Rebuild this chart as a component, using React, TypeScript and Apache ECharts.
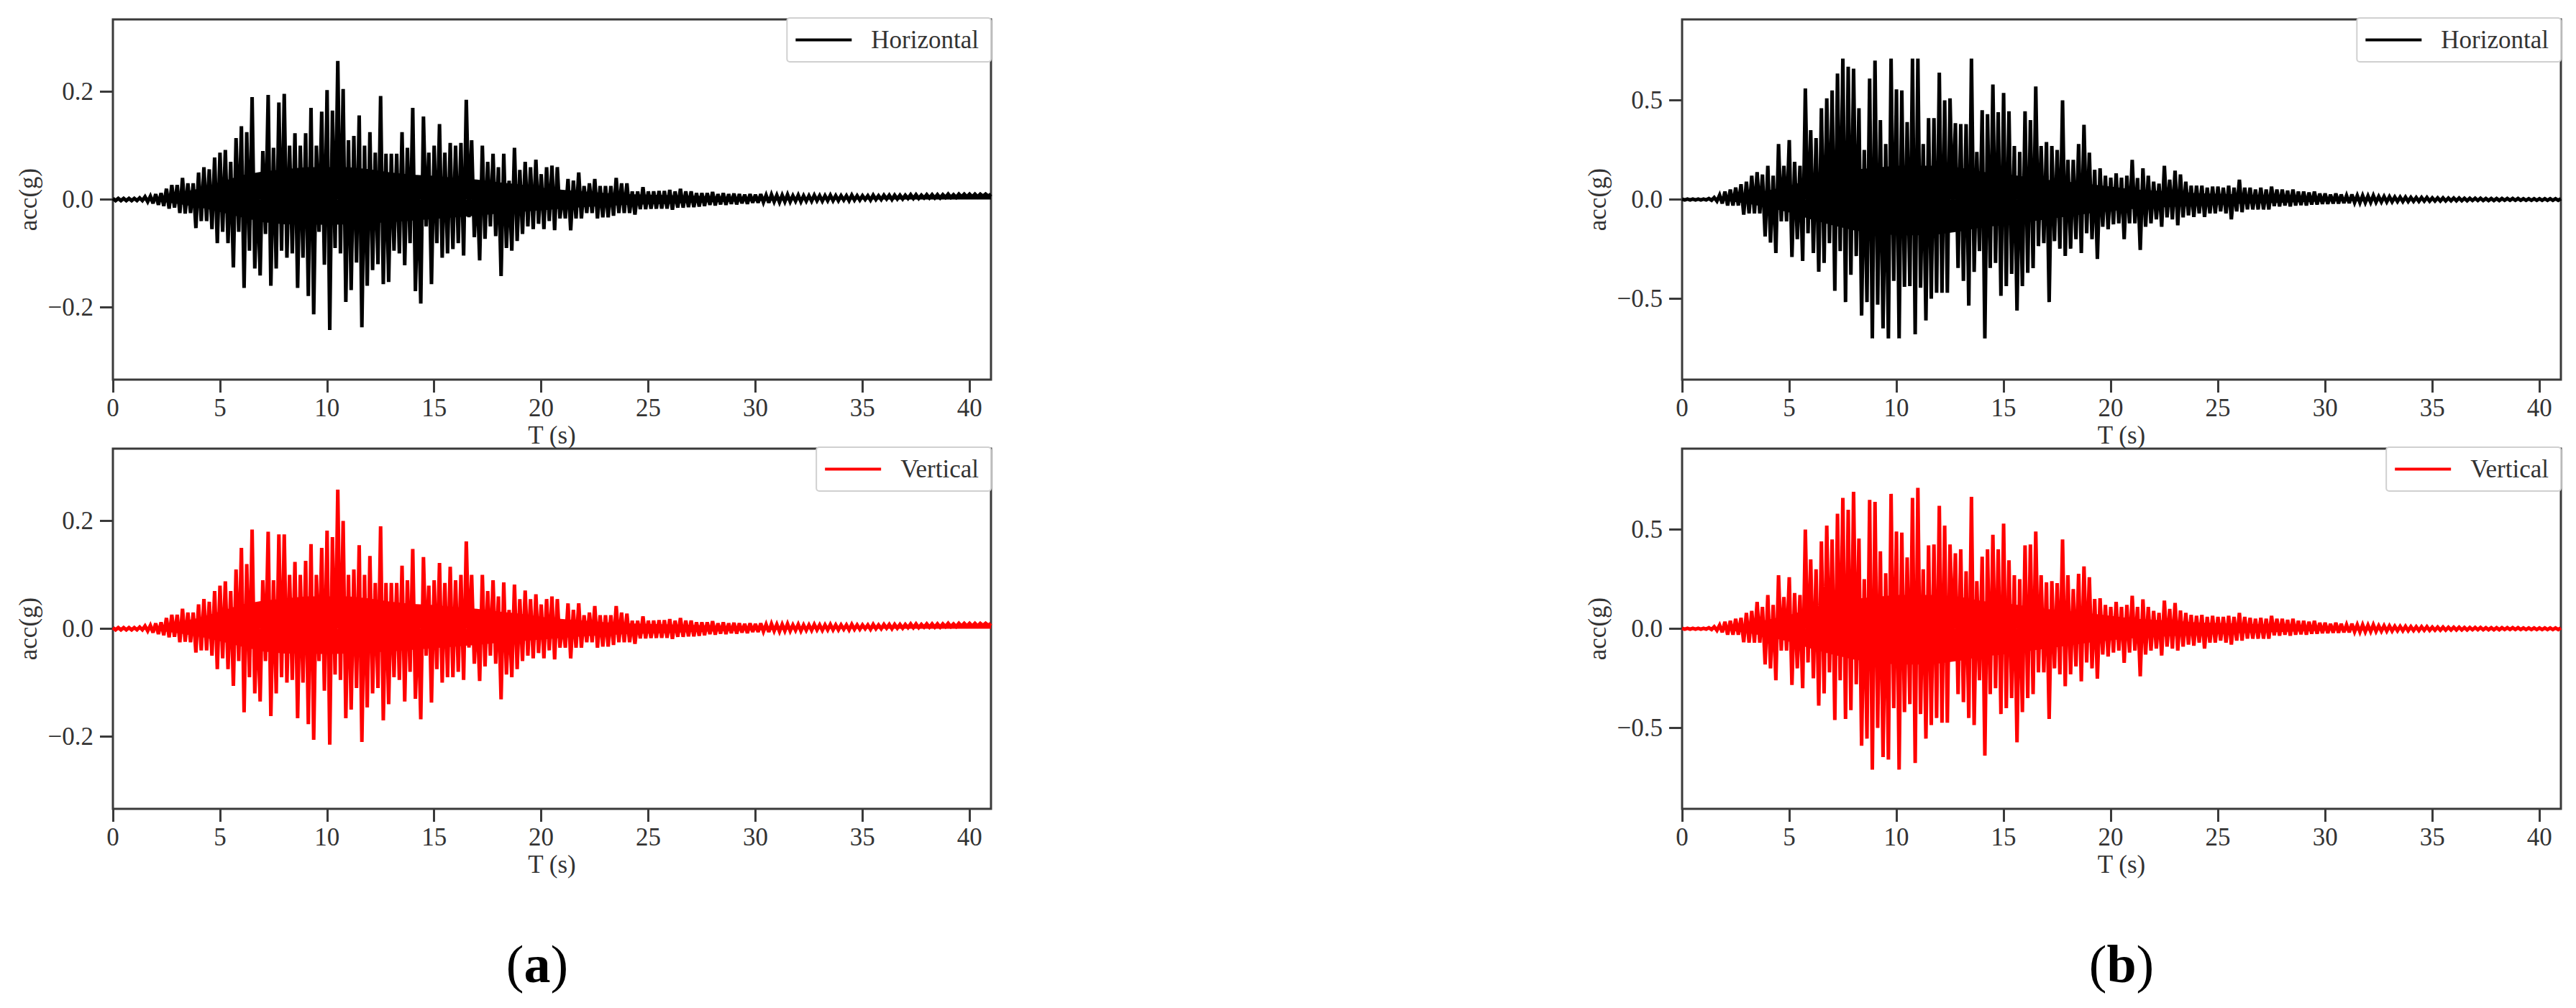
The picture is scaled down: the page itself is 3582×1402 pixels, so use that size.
import React, { useEffect, useRef } from "react";
import * as echarts from "echarts";

// ---- axis / tick data ----
const X_TICKS = [0, 5, 10, 15, 20, 25, 30, 35, 40];
const Y_TICKS_A = [-0.2, 0, 0.2];
const Y_TICKS_B = [-0.5, 0, 0.5];
const T_MAX = 41;
const Y_LIM_A = 0.334;
const Y_LIM_B = 0.908;
const BIN = 0.25; // s, width of each read-off window (max then min per window)
const BODY_STEP = 1; // s, spacing of the dense-body outline readings

// ---- (a) Horizontal: per-window maxima / minima, t = 0 .. 27.25 s ----
const hA_up = [
  0.002, 0.002, 0.002, 0.002, 0.002, 0.003, 0.005, 0.006, 0.01, 0.012,
  0.02, 0.027, 0.027, 0.04, 0.03, 0.03, 0.05, 0.06, 0.056, 0.078,
  0.087, 0.092, 0.07, 0.114, 0.136, 0.125, 0.19, 0.03, 0.09, 0.194,
  0.096, 0.18, 0.196, 0.1, 0.123, 0.1, 0.123, 0.17, 0.1, 0.163,
  0.203, 0.165, 0.257, 0.205, 0.11, 0.118, 0.156, 0.1, 0.125, 0.087,
  0.192, 0.085, 0.085, 0.085, 0.125, 0.096, 0.17, 0.03, 0.154, 0.087,
  0.1, 0.14, 0.087, 0.105, 0.1, 0.105, 0.185, 0.11, 0.035, 0.1,
  0.07, 0.085, 0.06, 0.085, 0.035, 0.096, 0.055, 0.07, 0.06, 0.074,
  0.047, 0.06, 0.063, 0.06, 0.016, 0.038, 0.035, 0.05, 0.025, 0.03,
  0.038, 0.025, 0.025, 0.025, 0.04, 0.03, 0.03, 0.015, 0.015, 0.023,
  0.015, 0.015, 0.016, 0.016, 0.018, 0.015, 0.02, 0.015, 0.015, 0.012,
];
const hA_lo = [
  -0.002, -0.002, -0.002, -0.002, -0.002, -0.002, -0.004, -0.007, -0.01, -0.012,
  -0.017, -0.015, -0.025, -0.026, -0.025, -0.053, -0.04, -0.04, -0.055, -0.081,
  -0.06, -0.081, -0.126, -0.06, -0.164, -0.095, -0.128, -0.141, -0.064, -0.16,
  -0.128, -0.095, -0.108, -0.1, -0.164, -0.108, -0.179, -0.213, -0.06, -0.121,
  -0.242, -0.09, -0.1, -0.19, -0.168, -0.117, -0.237, -0.16, -0.131, -0.12,
  -0.157, -0.153, -0.095, -0.1, -0.122, -0.081, -0.17, -0.193, -0.05, -0.157,
  -0.081, -0.108, -0.1, -0.092, -0.081, -0.104, -0.033, -0.07, -0.113, -0.073,
  -0.05, -0.068, -0.142, -0.09, -0.095, -0.077, -0.064, -0.05, -0.055, -0.045,
  -0.055, -0.04, -0.057, -0.035, -0.035, -0.057, -0.035, -0.035, -0.025, -0.025,
  -0.035, -0.033, -0.033, -0.03, -0.025, -0.025, -0.025, -0.028, -0.018, -0.018,
  -0.017, -0.017, -0.017, -0.017, -0.019, -0.015, -0.015, -0.014, -0.014, -0.013,
];

// ---- (a) Vertical ----
const vA_up = [
  0.002, 0.002, 0.002, 0.002, 0.002, 0.003, 0.005, 0.006, 0.01, 0.012,
  0.02, 0.026, 0.026, 0.037, 0.03, 0.03, 0.045, 0.055, 0.05, 0.07,
  0.08, 0.088, 0.07, 0.11, 0.15, 0.12, 0.184, 0.03, 0.09, 0.18,
  0.09, 0.175, 0.175, 0.1, 0.124, 0.1, 0.126, 0.157, 0.1, 0.15,
  0.182, 0.17, 0.258, 0.2, 0.1, 0.11, 0.155, 0.1, 0.135, 0.085,
  0.19, 0.085, 0.085, 0.085, 0.117, 0.09, 0.148, 0.03, 0.133, 0.08,
  0.09, 0.122, 0.085, 0.115, 0.09, 0.1, 0.162, 0.1, 0.035, 0.1,
  0.07, 0.09, 0.06, 0.086, 0.035, 0.082, 0.055, 0.071, 0.055, 0.064,
  0.045, 0.055, 0.06, 0.055, 0.016, 0.047, 0.035, 0.047, 0.025, 0.03,
  0.042, 0.025, 0.025, 0.025, 0.042, 0.03, 0.028, 0.015, 0.015, 0.023,
  0.015, 0.015, 0.016, 0.016, 0.018, 0.015, 0.02, 0.015, 0.015, 0.012,
];
const vA_lo = [
  -0.002, -0.002, -0.002, -0.002, -0.002, -0.002, -0.004, -0.007, -0.01, -0.012,
  -0.016, -0.015, -0.025, -0.024, -0.025, -0.044, -0.04, -0.04, -0.05, -0.075,
  -0.055, -0.075, -0.106, -0.06, -0.155, -0.09, -0.12, -0.135, -0.06, -0.162,
  -0.12, -0.09, -0.1, -0.095, -0.166, -0.1, -0.177, -0.206, -0.06, -0.115,
  -0.215, -0.085, -0.095, -0.166, -0.15, -0.11, -0.21, -0.146, -0.12, -0.11,
  -0.17, -0.14, -0.09, -0.095, -0.135, -0.08, -0.13, -0.168, -0.05, -0.137,
  -0.075, -0.1, -0.09, -0.09, -0.08, -0.095, -0.035, -0.065, -0.097, -0.07,
  -0.05, -0.065, -0.131, -0.085, -0.09, -0.075, -0.06, -0.05, -0.055, -0.045,
  -0.055, -0.04, -0.057, -0.035, -0.035, -0.055, -0.035, -0.035, -0.025, -0.025,
  -0.035, -0.033, -0.033, -0.03, -0.025, -0.025, -0.025, -0.028, -0.018, -0.018,
  -0.017, -0.017, -0.017, -0.017, -0.019, -0.015, -0.015, -0.014, -0.014, -0.013,
];

// ---- (a) coda, t = 27.5 .. 41 s (both components) ----
const aTail_up = [
  0.012, 0.012, 0.014, 0.01, 0.012, 0.01, 0.011, 0.01, 0.009, 0.01,
  0.009, 0.01, 0.008, 0.009, 0.008, 0.008, 0.009, 0.007, 0.008, 0.007,
  0.007, 0.008, 0.007, 0.007, 0.008, 0.007, 0.007, 0.007, 0.008, 0.007,
  0.007, 0.007, 0.008, 0.007, 0.008, 0.008, 0.008, 0.008, 0.008, 0.009,
  0.009, 0.008, 0.009, 0.009, 0.009, 0.009, 0.01, 0.009, 0.01, 0.01,
  0.01, 0.01, 0.01, 0.01, 0.01,
];
const aTail_lo = [
  -0.012, -0.01, -0.011, -0.009, -0.01, -0.008, -0.009, -0.007, -0.008, -0.006,
  -0.006, -0.005, -0.006, -0.004, -0.005, -0.004, -0.004, -0.003, -0.004, -0.003,
  -0.003, -0.002, -0.003, -0.002, -0.002, -0.002, -0.001, -0.002, -0.001, -0.001,
  0, -0.001, 0, 0, 0.001, 0, 0.001, 0.001, 0.002, 0.002,
  0.002, 0.003, 0.003, 0.003, 0.003, 0.004, 0.004, 0.004, 0.005, 0.005,
  0.005, 0.005, 0.006, 0.006, 0.006,
];

// ---- (a) fully inked core of the record, t = 0 .. 41 s by 1 s ----
const aBody_up = [
  0, 0, 0.004, 0.012, 0.02, 0.032, 0.045, 0.052, 0.056, 0.06,
  0.06, 0.06, 0.056, 0.05, 0.046, 0.044, 0.04, 0.037, 0.032, 0.028,
  0.022, 0.018, 0.015, 0.012, 0.01, 0.009, 0.008, 0.007, 0.006, 0.005,
  0.005, 0.004, 0.004, 0.004, 0.004, 0.004, 0.004, 0.005, 0.005, 0.006,
  0.006, 0.007,
];
const aBody_lo = [
  0, 0, -0.003, -0.008, -0.014, -0.023, -0.033, -0.042, -0.046, -0.046,
  -0.047, -0.046, -0.044, -0.042, -0.039, -0.036, -0.033, -0.03, -0.026, -0.023,
  -0.02, -0.017, -0.014, -0.012, -0.01, -0.009, -0.008, -0.006, -0.005, -0.004,
  -0.003, -0.002, -0.001, 0, 0, 0, 0, 0, 0, 0,
  0, 0,
];

// ---- (b) Horizontal ----
const hB_up = [
  0.002, 0.002, 0.002, 0.002, 0.002, 0.005, 0.01, 0.022, 0.04, 0.05,
  0.06, 0.077, 0.09, 0.12, 0.138, 0.126, 0.17, 0.12, 0.28, 0.17,
  0.3, 0.19, 0.17, 0.56, 0.35, 0.31, 0.46, 0.51, 0.55, 0.635,
  0.71, 0.67, 0.66, 0.46, 0.25, 0.61, 0.7, 0.4, 0.28, 0.71,
  0.555, 0.55, 0.39, 0.71, 0.71, 0.28, 0.41, 0.41, 0.64, 0.5,
  0.51, 0.385, 0.38, 0.38, 0.71, 0.24, 0.45, 0.43, 0.58, 0.44,
  0.537, 0.445, 0.27, 0.24, 0.445, 0.4, 0.57, 0.27, 0.29, 0.27,
  0.25, 0.5, 0.2, 0.2, 0.28, 0.377, 0.236, 0.15, 0.157, 0.12,
  0.11, 0.132, 0.11, 0.12, 0.2, 0.108, 0.157, 0.12, 0.09, 0.08,
  0.17, 0.1, 0.145, 0.126, 0.09, 0.07, 0.07, 0.07, 0.06, 0.065,
  0.065, 0.06, 0.07, 0.06, 0.1, 0.06, 0.06, 0.05, 0.06, 0.05,
];
const hB_lo = [
  -0.002, -0.002, -0.002, -0.002, -0.002, -0.004, -0.008, -0.02, -0.03, -0.03,
  -0.03, -0.076, -0.07, -0.07, -0.07, -0.186, -0.217, -0.27, -0.11, -0.11,
  -0.29, -0.2, -0.31, -0.17, -0.27, -0.364, -0.32, -0.22, -0.46, -0.26,
  -0.517, -0.38, -0.285, -0.585, -0.517, -0.7, -0.53, -0.65, -0.7, -0.41,
  -0.7, -0.44, -0.437, -0.68, -0.445, -0.61, -0.5, -0.47, -0.47, -0.47,
  -0.065, -0.345, -0.41, -0.535, -0.365, -0.26, -0.7, -0.345, -0.32, -0.486,
  -0.437, -0.375, -0.56, -0.437, -0.37, -0.346, -0.235, -0.22, -0.517, -0.21,
  -0.248, -0.284, -0.248, -0.2, -0.27, -0.17, -0.2, -0.3, -0.137, -0.15,
  -0.125, -0.12, -0.2, -0.12, -0.12, -0.254, -0.137, -0.12, -0.1, -0.137,
  -0.09, -0.1, -0.13, -0.09, -0.08, -0.088, -0.07, -0.088, -0.07, -0.07,
  -0.06, -0.07, -0.1, -0.06, -0.064, -0.05, -0.05, -0.05, -0.05, -0.05,
];

// ---- (b) Vertical ----
const vB_up = [
  0.002, 0.002, 0.002, 0.002, 0.002, 0.005, 0.01, 0.018, 0.035, 0.04,
  0.05, 0.055, 0.08, 0.09, 0.135, 0.11, 0.17, 0.12, 0.27, 0.16,
  0.26, 0.18, 0.17, 0.5, 0.35, 0.3, 0.44, 0.52, 0.45, 0.58,
  0.66, 0.6, 0.69, 0.455, 0.25, 0.65, 0.64, 0.39, 0.28, 0.68,
  0.49, 0.485, 0.36, 0.66, 0.71, 0.3, 0.42, 0.425, 0.62, 0.52,
  0.425, 0.38, 0.4, 0.29, 0.665, 0.24, 0.363, 0.4, 0.474, 0.4,
  0.53, 0.345, 0.27, 0.25, 0.42, 0.425, 0.49, 0.27, 0.234, 0.24,
  0.23, 0.45, 0.27, 0.2, 0.277, 0.314, 0.26, 0.15, 0.154, 0.12,
  0.11, 0.135, 0.11, 0.12, 0.166, 0.11, 0.148, 0.11, 0.09, 0.08,
  0.142, 0.1, 0.13, 0.092, 0.08, 0.07, 0.065, 0.07, 0.06, 0.065,
  0.06, 0.06, 0.065, 0.06, 0.08, 0.06, 0.055, 0.05, 0.055, 0.05,
];
const vB_lo = [
  -0.002, -0.002, -0.002, -0.002, -0.002, -0.004, -0.008, -0.018, -0.03, -0.03,
  -0.03, -0.068, -0.07, -0.07, -0.07, -0.18, -0.2, -0.26, -0.11, -0.11,
  -0.283, -0.2, -0.3, -0.17, -0.25, -0.388, -0.326, -0.22, -0.46, -0.26,
  -0.455, -0.41, -0.28, -0.59, -0.554, -0.71, -0.5, -0.647, -0.66, -0.4,
  -0.71, -0.42, -0.38, -0.677, -0.43, -0.554, -0.486, -0.45, -0.474, -0.474,
  -0.06, -0.33, -0.37, -0.45, -0.486, -0.26, -0.64, -0.33, -0.3, -0.43,
  -0.4, -0.35, -0.573, -0.42, -0.35, -0.33, -0.22, -0.22, -0.455, -0.2,
  -0.23, -0.29, -0.23, -0.19, -0.265, -0.17, -0.2, -0.252, -0.13, -0.14,
  -0.12, -0.11, -0.172, -0.12, -0.11, -0.24, -0.13, -0.11, -0.1, -0.135,
  -0.09, -0.1, -0.11, -0.09, -0.08, -0.085, -0.07, -0.1, -0.07, -0.07,
  -0.06, -0.07, -0.08, -0.06, -0.06, -0.05, -0.05, -0.05, -0.05, -0.05,
];

// ---- (b) coda, t = 27.5 .. 41 s ----
const bTail_up = [
  0.065, 0.05, 0.05, 0.045, 0.05, 0.04, 0.04, 0.035, 0.04, 0.03,
  0.03, 0.025, 0.03, 0.025, 0.02, 0.025, 0.02, 0.02, 0.018, 0.02,
  0.015, 0.015, 0.014, 0.012, 0.012, 0.012, 0.01, 0.01, 0.01, 0.01,
  0.008, 0.008, 0.008, 0.007, 0.007, 0.007, 0.006, 0.006, 0.006, 0.006,
  0.005, 0.005, 0.005, 0.005, 0.005, 0.005, 0.005, 0.004, 0.004, 0.004,
  0.004, 0.004, 0.004, 0.004, 0.004,
];
const bTail_lo = [
  -0.033, -0.035, -0.03, -0.035, -0.03, -0.028, -0.03, -0.025, -0.025, -0.022,
  -0.022, -0.02, -0.02, -0.018, -0.018, -0.015, -0.016, -0.015, -0.014, -0.013,
  -0.012, -0.012, -0.011, -0.01, -0.01, -0.01, -0.009, -0.009, -0.008, -0.008,
  -0.007, -0.007, -0.007, -0.006, -0.006, -0.006, -0.006, -0.005, -0.005, -0.005,
  -0.005, -0.005, -0.005, -0.004, -0.004, -0.004, -0.004, -0.004, -0.004, -0.004,
  -0.004, -0.004, -0.004, -0.004, -0.004,
];

// ---- (b) fully inked core, t = 0 .. 41 s by 1 s ----
const bBody_up = [
  0, 0, 0.006, 0.025, 0.045, 0.07, 0.1, 0.13, 0.15, 0.16,
  0.17, 0.17, 0.17, 0.16, 0.14, 0.13, 0.115, 0.1, 0.09, 0.078,
  0.065, 0.052, 0.045, 0.04, 0.032, 0.029, 0.026, 0.022, 0.018, 0.013,
  0.011, 0.009, 0.007, 0.006, 0.005, 0.004, 0.003, 0.003, 0.002, 0.002,
  0.002, 0.002,
];
const bBody_lo = [
  0, 0, -0.006, -0.02, -0.04, -0.065, -0.1, -0.13, -0.155, -0.17,
  -0.18, -0.18, -0.175, -0.16, -0.14, -0.13, -0.115, -0.1, -0.085, -0.07,
  -0.058, -0.048, -0.042, -0.036, -0.032, -0.026, -0.022, -0.019, -0.016, -0.013,
  -0.01, -0.008, -0.006, -0.005, -0.004, -0.003, -0.003, -0.002, -0.002, -0.002,
  -0.002, -0.002,
];

const FONT = '"Liberation Serif", "Times New Roman", serif';
const TEXT = "#333";
const SPINE = "#3a3a3a";

function trace(up: number[], lo: number[]): number[][] {
  const pts: number[][] = [];
  for (let i = 0; i < up.length; i++) {
    const t = i * BIN;
    if (t <= T_MAX) pts.push([t, up[i]]);
    const t2 = t + BIN / 2;
    if (i < lo.length && t2 <= T_MAX) pts.push([t2, lo[i]]);
  }
  return pts;
}

const bodyPts = (vals: number[]) => vals.map((v, i) => [i * BODY_STEP, v]);

const fmtY = (v: number) => v.toFixed(1).replace("-", "\u2212");

function buildOption() {
  const grids = [
    { left: 157, top: 27, width: 1221, height: 501 },
    { left: 157, top: 624, width: 1221, height: 501 },
    { left: 2339, top: 27, width: 1222, height: 501 },
    { left: 2339, top: 624, width: 1222, height: 501 },
  ].map((g) => ({ ...g, show: true, borderColor: SPINE, borderWidth: 3, backgroundColor: "transparent" }));

  const labelStyle = { fontSize: 35, fontFamily: FONT, color: TEXT };

  const xAxis = grids.map((_, i) => ({
    type: "value",
    gridIndex: i,
    min: 0,
    max: T_MAX,
    axisLine: { show: false, onZero: false },
    axisTick: { show: true, length: 18, lineStyle: { width: 3, color: SPINE }, customValues: X_TICKS },
    axisLabel: { ...labelStyle, margin: 22, customValues: X_TICKS },
    splitLine: { show: false },
    name: "T (s)",
    nameLocation: "middle",
    nameGap: 60,
    nameTextStyle: labelStyle,
  }));

  const yAxis = grids.map((_, i) => {
    const isA = i < 2;
    const lim = isA ? Y_LIM_A : Y_LIM_B;
    const ticks = isA ? Y_TICKS_A : Y_TICKS_B;
    return {
      type: "value",
      gridIndex: i,
      min: -lim,
      max: lim,
      axisLine: { show: false, onZero: false },
      axisTick: { show: true, length: 18, lineStyle: { width: 3, color: SPINE }, customValues: ticks },
      axisLabel: { ...labelStyle, margin: 27, customValues: ticks, formatter: fmtY },
      splitLine: { show: false },
      name: "acc(g)",
      nameLocation: "middle",
      nameGap: 100,
      nameTextStyle: labelStyle,
    };
  });

  const legendBase = {
    orient: "horizontal",
    icon: "rect",
    itemWidth: 78,
    itemHeight: 4,
    selectedMode: false,
    backgroundColor: "#fff",
    borderColor: "#d0d0d0",
    borderWidth: 2,
    borderRadius: 4,
    padding: [13, 17, 13, 12],
    textStyle: { fontSize: 35, fontFamily: FONT, color: TEXT, padding: [0, 0, 0, 22] },
  };
  const W = 3582;
  const legend = [
    { ...legendBase, data: ["Horizontal"], right: W - 1378, top: 25 },
    { ...legendBase, data: ["Vertical"], right: W - 1378, top: 622 },
    { ...legendBase, data: ["Horizontal"], right: W - 3561, top: 25 },
    { ...legendBase, data: ["Vertical"], right: W - 3561, top: 622 },
  ];

  const mk = (name: string, color: string, idx: number, data: number[][]) => ({
    name,
    type: "line",
    xAxisIndex: idx,
    yAxisIndex: idx,
    data,
    showSymbol: false,
    symbol: "none",
    silent: true,
    color,
    lineStyle: { color, width: 5, join: "miter", miterLimit: 3 },
    z: 3,
  });

  const body = (name: string, color: string, idx: number, data: number[][]) => ({
    name,
    type: "line",
    xAxisIndex: idx,
    yAxisIndex: idx,
    data,
    showSymbol: false,
    symbol: "none",
    silent: true,
    color,
    lineStyle: { width: 0, opacity: 0 },
    areaStyle: { color, opacity: 1 },
    z: 2,
  });

  const series = [
    body("body-a-h+", "#000000", 0, bodyPts(aBody_up)),
    body("body-a-h-", "#000000", 0, bodyPts(aBody_lo)),
    body("body-a-v+", "#ff0000", 1, bodyPts(aBody_up)),
    body("body-a-v-", "#ff0000", 1, bodyPts(aBody_lo)),
    body("body-b-h+", "#000000", 2, bodyPts(bBody_up)),
    body("body-b-h-", "#000000", 2, bodyPts(bBody_lo)),
    body("body-b-v+", "#ff0000", 3, bodyPts(bBody_up)),
    body("body-b-v-", "#ff0000", 3, bodyPts(bBody_lo)),
    mk("Horizontal", "#000000", 0, trace(hA_up.concat(aTail_up), hA_lo.concat(aTail_lo))),
    mk("Vertical", "#ff0000", 1, trace(vA_up.concat(aTail_up), vA_lo.concat(aTail_lo))),
    mk("Horizontal", "#000000", 2, trace(hB_up.concat(bTail_up), hB_lo.concat(bTail_lo))),
    mk("Vertical", "#ff0000", 3, trace(vB_up.concat(bTail_up), vB_lo.concat(bTail_lo))),
  ];

  const panelLabel = (x: number, letter: string) => ({
    type: "text",
    x,
    y: 1341,
    z: 10,
    style: {
      text: `{n|(}{b|${letter}}{n|)}`,
      align: "center",
      verticalAlign: "middle",
      fontFamily: FONT,
      fontSize: 74,
      fill: "#000",
      rich: {
        n: { fontFamily: FONT, fontSize: 74, fill: "#000", color: "#000" },
        b: { fontFamily: FONT, fontSize: 74, fontWeight: "bold", fill: "#000", color: "#000" },
      },
    },
  });

  const graphic = [
    // the lower axes' white face hides the foot of the upper "T (s)" label
    { type: "rect", z: 10, shape: { x: 690, y: 626, width: 160, height: 26 }, style: { fill: "#fff" } },
    { type: "rect", z: 10, shape: { x: 2870, y: 626, width: 160, height: 26 }, style: { fill: "#fff" } },
    panelLabel(747, "a"),
    panelLabel(2950, "b"),
  ];

  return {
    animation: false,
    backgroundColor: "#fff",
    textStyle: { fontFamily: FONT },
    grid: grids,
    xAxis,
    yAxis,
    legend,
    series,
    graphic,
  };
}

export default function App() {
  const ref = useRef<HTMLDivElement>(null);
  useEffect(() => {
    if (!ref.current) return;
    const chart = echarts.init(ref.current, null, { renderer: "svg" });
    chart.setOption(buildOption() as any);
    return () => chart.dispose();
  }, []);
  return (
    <div
      ref={ref}
      style={{ position: "fixed", left: 0, top: 0, width: 3582, height: 1402, background: "#fff" }}
    />
  );
}
